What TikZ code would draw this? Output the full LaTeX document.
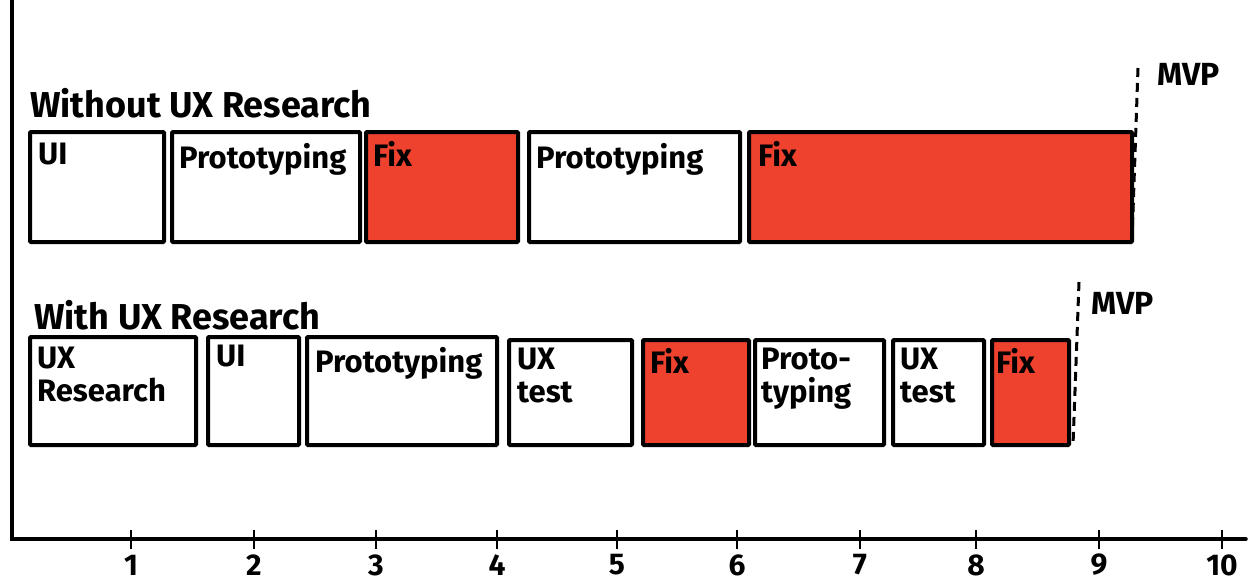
\documentclass[tikz,border=0pt]{standalone}
\usepackage{fontspec}
\setmainfont{Fira Sans}
\definecolor{fixred}{RGB}{238,66,46}
\tikzset{
  stage/.style={draw=black, line width=4pt, anchor=north west, inner sep=0pt, rounded corners=1pt},
  fixstage/.style={stage, fill=fixred},
  lbl/.style={anchor=north west, inner sep=0pt, font=\bfseries\fontsize{31}{33}\selectfont, align=left},
  title/.style={anchor=base west, inner sep=0pt, font=\bfseries\fontsize{36}{38}\selectfont},
  mvpline/.style={line width=3pt, dash pattern=on 9pt off 6pt},
  mvptext/.style={anchor=north west, inner sep=0pt, font=\bfseries\fontsize{32}{34}\selectfont},
  axisline/.style={line width=3.5pt, line cap=round},
  tickmark/.style={line width=2.5pt},
  ticklbl/.style={inner sep=0pt, font=\bfseries\fontsize{30}{32}\selectfont}
}
\newcommand{\stagebox}[6]{% name, style, x1, x2, ytop, ybot
  \node[#2, minimum width={#4-#3}, minimum height={#6-#5}] (#1) at (#3,#5) {};}
\begin{document}
\begin{tikzpicture}[x=1pt,y=-1pt]
\useasboundingbox (0,0) rectangle (1250,581);
% axes
\coordinate (origin) at (12,539);
\coordinate (ytop) at (12,0);
\coordinate (xend) at (1246,539);
\draw[axisline] (ytop) -- (origin) -- (xend);
\foreach \i/\x in {1/131,2/254,3/376,4/497,5/617,6/737,7/860,8/976,9/1099,10/1222}{
  \coordinate (tt\i) at (\x,530);
  \coordinate (tb\i) at (\x,549);
  \draw[tickmark] (tt\i) -- (tb\i);
  \node[ticklbl] (tl\i) at (\x,565) {\i};
}
% top row
\node[title] (t0) at (30,117) {Without UX Research};
\stagebox{a1}{stage}{28}{162}{130}{240}
\stagebox{a2}{stage}{170}{358}{130}{240}
\stagebox{a3}{fixstage}{364}{516}{130}{240}
\stagebox{a4}{stage}{527}{738}{130}{240}
\stagebox{a5}{fixstage}{747}{1130}{130}{240}
\node[lbl] (la1) at ([shift={(10,13)}]a1.north west) {UI};
\node[lbl] (la2) at ([shift={(9,13)}]a2.north west) {Prototyping};
\node[lbl] (la3) at ([shift={(9,11)}]a3.north west) {Fix};
\node[lbl] (la4) at ([shift={(9,13)}]a4.north west) {Prototyping};
\node[lbl] (la5) at ([shift={(11,11)}]a5.north west) {Fix};
\coordinate (m1t) at (1138,68);
\coordinate (m1b) at (1132,240);
\draw[mvpline] (m1t) -- (m1b);
\node[mvptext] (mvp1) at (1157,63) {MVP};
% bottom row
\node[title] (b0) at (34,329) {With UX Research};
\stagebox{b1}{stage}{28}{194}{335}{443}
\stagebox{b2}{stage}{206}{297}{335}{443}
\stagebox{b3}{stage}{305}{495}{335}{443}
\stagebox{b4}{stage}{507}{630}{338}{443}
\stagebox{b5}{fixstage}{641}{747}{338}{443}
\stagebox{b6}{stage}{753}{882}{338}{443}
\stagebox{b7}{stage}{891}{982}{338}{443}
\stagebox{b8}{fixstage}{990}{1067}{338}{443}
\node[lbl] (lb1) at ([shift={(9,12)}]b1.north west) {UX\\Research};
\node[lbl] (lb2) at ([shift={(10,10)}]b2.north west) {UI};
\node[lbl] (lb3) at ([shift={(10,12)}]b3.north west) {Prototyping};
\node[lbl] (lb4) at ([shift={(10,10)}]b4.north west) {UX\\test};
\node[lbl] (lb5) at ([shift={(9,10)}]b5.north west) {Fix};
\node[lbl] (lb6) at ([shift={(8,10)}]b6.north west) {Proto-\\typing};
\node[lbl] (lb7) at ([shift={(9,10)}]b7.north west) {UX\\test};
\node[lbl] (lb8) at ([shift={(6,10)}]b8.north west) {Fix};
\coordinate (m2t) at (1079,282);
\coordinate (m2b) at (1073,445);
\draw[mvpline] (m2t) -- (m2b);
\node[mvptext] (mvp2) at (1091,292) {MVP};
\end{tikzpicture}
\end{document}
